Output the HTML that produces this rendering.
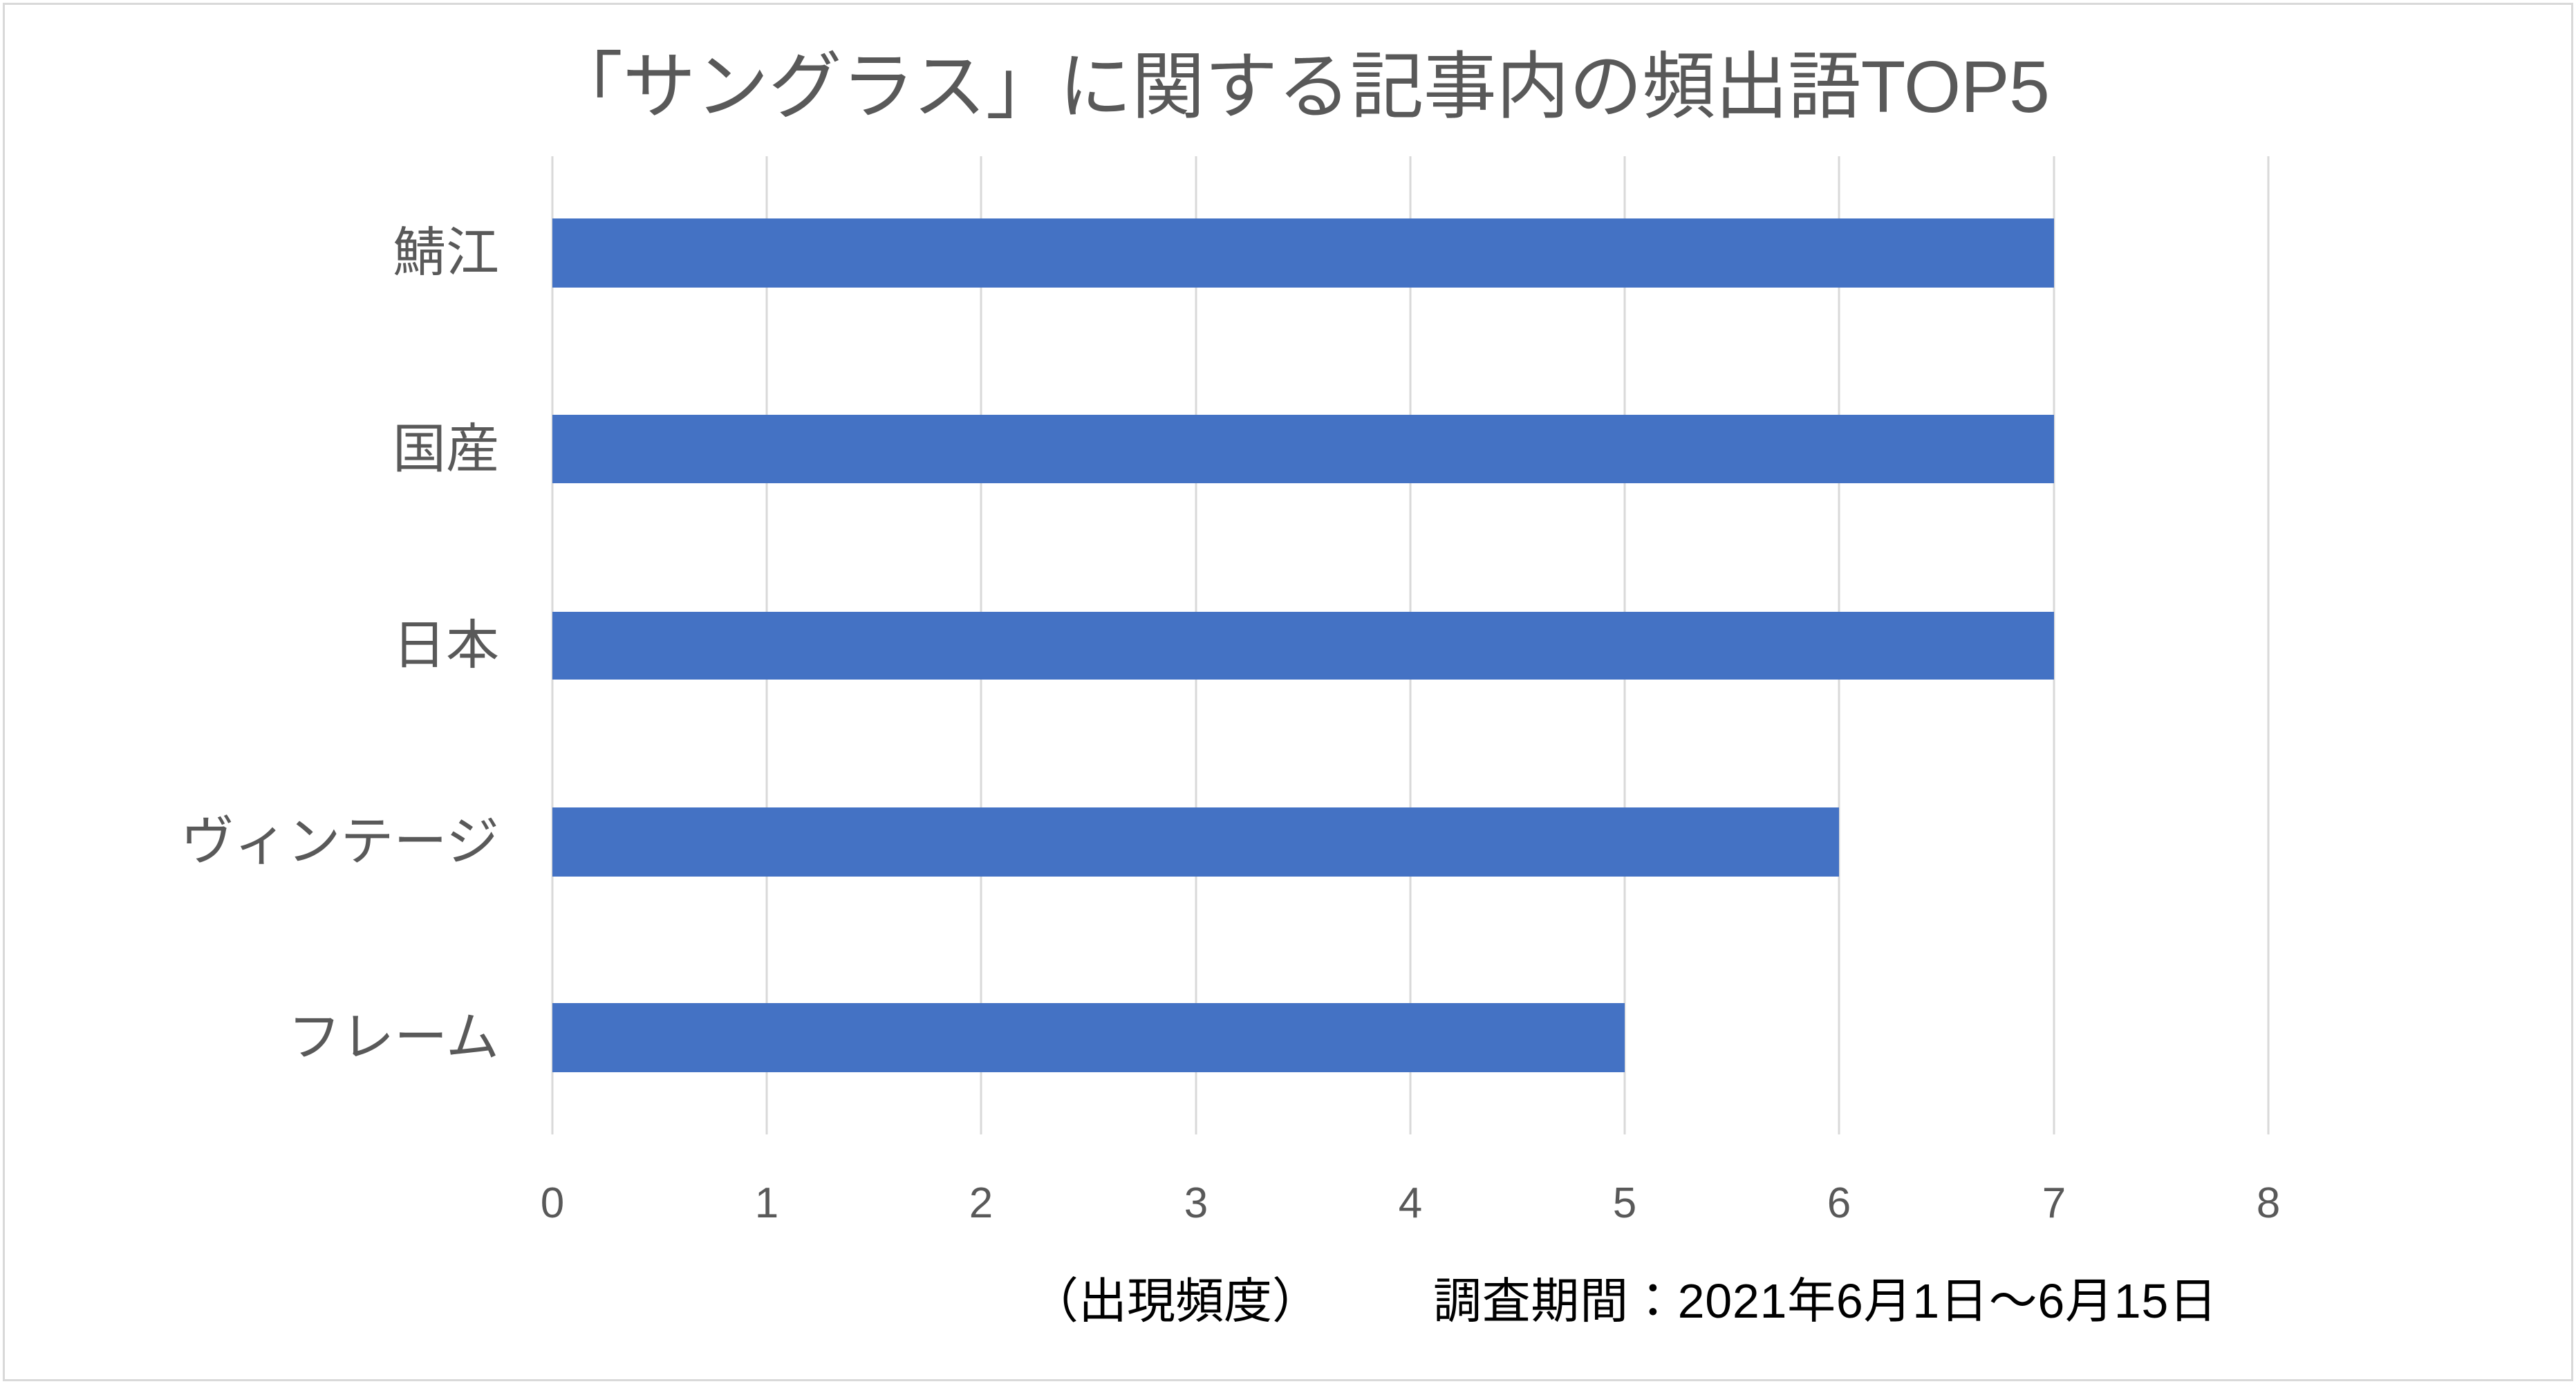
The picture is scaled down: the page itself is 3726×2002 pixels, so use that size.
<!DOCTYPE html>
<html><head><meta charset="utf-8"><style>
html,body{margin:0;padding:0;background:#fff;}
body{width:3726px;height:2002px;position:relative;overflow:hidden;font-family:"Liberation Sans","Noto Sans CJK JP",sans-serif;}
.abs{position:absolute;}
</style></head><body>
<div class="abs" style="left:4px;top:4px;width:3712px;height:1988px;border:3px solid #d9d9d9;"></div>
<svg class="abs" style="left:0;top:0" width="3726" height="2002">
<g stroke="#d9d9d9" stroke-width="3">
<line x1="799" y1="226" x2="799" y2="1641"/>
<line x1="1109" y1="226" x2="1109" y2="1641"/>
<line x1="1419" y1="226" x2="1419" y2="1641"/>
<line x1="1730" y1="226" x2="1730" y2="1641"/>
<line x1="2040" y1="226" x2="2040" y2="1641"/>
<line x1="2350" y1="226" x2="2350" y2="1641"/>
<line x1="2660" y1="226" x2="2660" y2="1641"/>
<line x1="2971" y1="226" x2="2971" y2="1641"/>
<line x1="3281" y1="226" x2="3281" y2="1641"/>
</g>
<g fill="#4472C4">
<rect x="799" y="316" width="2172" height="100"/>
<rect x="799" y="600" width="2172" height="99"/>
<rect x="799" y="885" width="2172" height="98"/>
<rect x="799" y="1168" width="1861" height="100"/>
<rect x="799" y="1451" width="1551" height="100"/>
</g>
<g fill="#595959" font-size="62" text-anchor="middle" font-family="Liberation Sans, sans-serif">
<text x="799" y="1761">0</text><text x="1109" y="1761">1</text><text x="1419" y="1761">2</text>
<text x="1730" y="1761">3</text><text x="2040" y="1761">4</text><text x="2350" y="1761">5</text>
<text x="2660" y="1761">6</text><text x="2971" y="1761">7</text><text x="3281" y="1761">8</text>
</g>
<g fill="#595959" font-size="77" text-anchor="end" font-family="Liberation Sans, Noto Sans CJK JP, sans-serif">
<text x="722" y="392">鯖江</text>
<text x="722" y="676">国産</text>
<text x="722" y="960">日本</text>
<text x="722" y="1244">ヴィンテージ</text>
<text x="722" y="1527">フレーム</text>
</g>
<text x="1880" y="162" fill="#595959" font-size="106" text-anchor="middle" textLength="2170" font-family="Liberation Sans, Noto Sans CJK JP, sans-serif">「サングラス」に関する記事内の頻出語TOP5</text>
<g fill="#000" font-size="70" font-family="Liberation Sans, Noto Sans CJK JP, sans-serif">
<text x="1490" y="1906">（出現頻度）</text>
<text x="2073" y="1906" textLength="1134">調査期間：2021年6月1日～6月15日</text>
</g>
</svg>
</body></html>
